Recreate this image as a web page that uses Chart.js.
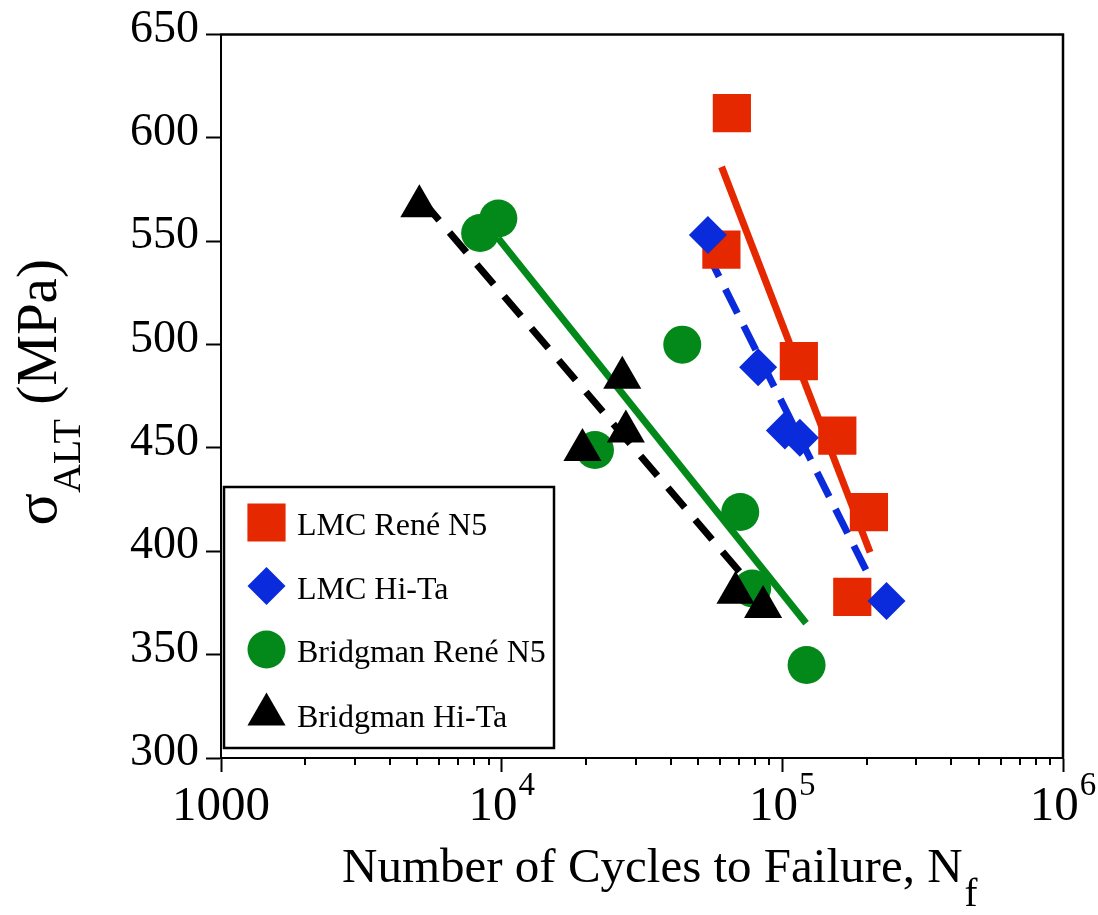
<!DOCTYPE html>
<html>
<head>
<meta charset="utf-8">
<script src="https://cdn.jsdelivr.net/npm/chart.js@4.4.1/dist/chart.umd.min.js"></script>
<style>
  html, body { margin: 0; padding: 0; background: #ffffff; }
  canvas { display: block; }
</style>
</head>
<body>
<canvas id="fatigue" width="1098" height="915"></canvas>
<script>
// Measured fatigue lives (cycles) and alternating stress (MPa)
const lmcReneN5Cycles   = [66100, 60660, 114500, 157000, 203500, 177500];
const lmcReneN5Stress   = [612, 546, 492, 456, 419, 378];
const lmcHiTaCycles     = [54300, 82000, 102100, 115500, 235000];
const lmcHiTaStress     = [553, 489, 458.5, 455, 376];
const bridgReneN5Cycles = [8380, 9730, 21500, 44000, 70800, 78100, 122000];
const bridgReneN5Stress = [554, 561, 449, 500, 419, 382, 345];
const bridgHiTaCycles   = [5090, 19400, 26900, 27700, 68100, 85400];
const bridgHiTaStress   = [567, 449, 484, 458, 380, 373];

// Trend-line end points for each alloy / process
const lmcReneN5FitCycles   = [60760, 205400];
const lmcReneN5FitStress   = [586, 399.5];
const lmcHiTaFitCycles     = [53900, 206600];
const lmcHiTaFitStress     = [544.6, 386.3];
const bridgReneN5FitCycles = [9710, 121500];
const bridgReneN5FitStress = [551.5, 365.2];
const bridgHiTaFitCycles   = [5210, 73500];
const bridgHiTaFitStress   = [569.7, 387.2];

const seriesNames = ['LMC René N5', 'LMC Hi-Ta', 'Bridgman René N5', 'Bridgman Hi-Ta'];

// Axis ticks
const yTickValues  = [300, 350, 400, 450, 500, 550, 600, 650];
const xMajorTicks  = [1000, 10000, 100000, 1000000];
const xMajorBase   = ['1000', '10', '10', '10'];
const xMajorExp    = ['', '4', '5', '6'];
const xMinorTicks  = [2000, 3000, 4000, 5000, 6000, 7000, 8000, 9000,
                      20000, 30000, 40000, 50000, 60000, 70000, 80000, 90000,
                      200000, 300000, 400000, 500000, 600000, 700000, 800000, 900000];

const RED = '#e52800', BLUE = '#0a2bdc', GREEN = '#03891a', BLACK = '#000000';
const SERIF = '"Liberation Serif", "Times New Roman", serif';

const pts = (xs, ys) => xs.map((v, i) => ({ x: v, y: ys[i] }));

function markerSet(label, xs, ys, style, radius, color, order) {
  return {
    type: 'scatter', label, data: pts(xs, ys), order,
    pointStyle: style, pointRadius: radius, pointHoverRadius: radius,
    backgroundColor: color, borderColor: color, pointBorderWidth: 0,
    showLine: false
  };
}
function fitSet(xs, ys, color, dash) {
  return {
    type: 'line', label: '', data: pts(xs, ys), order: 10,
    borderColor: color, borderWidth: 7, borderDash: dash, borderCapStyle: 'butt',
    pointRadius: 0, pointHoverRadius: 0, fill: false, tension: 0
  };
}

const datasets = [
  markerSet(seriesNames[0], lmcReneN5Cycles, lmcReneN5Stress, 'rect', 27, RED, 4),
  markerSet(seriesNames[1], lmcHiTaCycles, lmcHiTaStress, 'rectRot', 19, BLUE, 3),
  markerSet(seriesNames[2], bridgReneN5Cycles, bridgReneN5Stress, 'circle', 19, GREEN, 2),
  markerSet(seriesNames[3], bridgHiTaCycles, bridgHiTaStress, 'triangle', 22, BLACK, 1),
  fitSet(lmcReneN5FitCycles, lmcReneN5FitStress, RED, []),
  fitSet(lmcHiTaFitCycles, lmcHiTaFitStress, BLUE, [27, 14]),
  fitSet(bridgReneN5FitCycles, bridgReneN5FitStress, GREEN, []),
  fitSet(bridgHiTaFitCycles, bridgHiTaFitStress, BLACK, [26, 16])
];

function drawMarker(ctx, style, x, y, r, color) {
  ctx.fillStyle = color;
  ctx.beginPath();
  if (style === 'rect') {
    const h = Math.SQRT1_2 * r;
    ctx.rect(x - h, y - h, 2 * h, 2 * h);
  } else if (style === 'rectRot') {
    ctx.moveTo(x - r, y); ctx.lineTo(x, y - r); ctx.lineTo(x + r, y); ctx.lineTo(x, y + r);
    ctx.closePath();
  } else if (style === 'circle') {
    ctx.arc(x, y, r, 0, Math.PI * 2);
  } else {
    ctx.moveTo(x, y - r);
    ctx.lineTo(x + Math.sin(2 * Math.PI / 3) * r, y + 0.5 * r);
    ctx.lineTo(x - Math.sin(2 * Math.PI / 3) * r, y + 0.5 * r);
    ctx.closePath();
  }
  ctx.fill();
}

// Frame, minor ticks, decade labels, axis titles and the boxed key
const decorations = {
  id: 'decorations',
  afterDraw(chart) {
    const { ctx, chartArea: a, scales: { x } } = chart;
    ctx.save();
    ctx.strokeStyle = '#000';

    // top and right frame edges
    ctx.lineWidth = 2.5;
    ctx.beginPath();
    ctx.moveTo(a.left - 1, a.top);
    ctx.lineTo(a.right, a.top);
    ctx.lineTo(a.right, a.bottom + 1);
    ctx.stroke();

    // minor ticks on the log axis
    ctx.lineWidth = 2;
    ctx.beginPath();
    xMinorTicks.forEach(v => {
      const px = Math.round(x.getPixelForValue(v));
      ctx.moveTo(px, a.bottom);
      ctx.lineTo(px, a.bottom + 7);
    });
    ctx.stroke();

    // decade labels with superscript exponents
    ctx.fillStyle = '#000';
    ctx.textBaseline = 'alphabetic';
    ctx.textAlign = 'left';
    xMajorTicks.forEach((v, i) => {
      const px = x.getPixelForValue(v);
      ctx.font = '49px ' + SERIF;
      const wb = ctx.measureText(xMajorBase[i]).width;
      ctx.font = '33px ' + SERIF;
      const we = xMajorExp[i] ? ctx.measureText(xMajorExp[i]).width + 1 : 0;
      const start = px - (wb + we) / 2;
      ctx.font = '49px ' + SERIF;
      ctx.fillText(xMajorBase[i], start, a.bottom + 62);
      if (xMajorExp[i]) {
        ctx.font = '33px ' + SERIF;
        ctx.fillText(xMajorExp[i], start + wb + 1, a.bottom + 37);
      }
    });

    // x axis title: Number of Cycles to Failure, N_f
    const xMain = 'Number of Cycles to Failure, N', xSub = 'f';
    const xs0 = 342;
    ctx.font = '49px ' + SERIF;
    const wxm = ctx.measureText(xMain).width;
    ctx.fillText(xMain, xs0, 882);
    ctx.font = '39px ' + SERIF;
    ctx.fillText(xSub, xs0 + wxm + 2, 906);

    // y axis title: sigma_ALT (MPa), rotated
    ctx.save();
    ctx.translate(56, (a.top + a.bottom) / 2 - 4);
    ctx.rotate(-Math.PI / 2);
    const parts = [
      { t: '\u03C3', f: '60px ' + SERIF, dy: 0 },
      { t: 'ALT', f: '40px ' + SERIF, dy: 24 },
      { t: ' (MPa)', f: '57px ' + SERIF, dy: 0 }
    ];
    let total = 0;
    parts.forEach(p => { ctx.font = p.f; p.w = ctx.measureText(p.t).width; total += p.w; });
    let cx = -total / 2;
    parts.forEach(p => { ctx.font = p.f; ctx.fillText(p.t, cx, p.dy); cx += p.w; });
    ctx.restore();

    // key box
    const box = { x: 224, y: 487, w: 330, h: 261 };
    ctx.fillStyle = '#fff';
    ctx.fillRect(box.x, box.y, box.w, box.h);
    ctx.lineWidth = 2.5;
    ctx.strokeRect(box.x, box.y, box.w, box.h);
    const rowY = [522.5, 586, 649.5, 714.5];
    const keyRadius = [27, 19, 19, 22];
    for (let i = 0; i < 4; i++) {
      const ds = chart.data.datasets[i];
      drawMarker(ctx, ds.pointStyle, 266.5, rowY[i], keyRadius[i], ds.backgroundColor);
      ctx.fillStyle = '#000';
      ctx.font = '32px ' + SERIF;
      ctx.fillText(ds.label, 297, rowY[i] + 12.5);
    }
    ctx.restore();
  }
};

new Chart(document.getElementById('fatigue'), {
  data: { datasets },
  options: {
    responsive: false,
    animation: false,
    events: [],
    layout: { padding: { top: 33, right: 35, left: 0, bottom: 0 } },
    plugins: { legend: { display: false }, tooltip: { enabled: false }, title: { display: false } },
    scales: {
      x: {
        type: 'logarithmic', min: 1000, max: 1000000,
        afterBuildTicks: s => { s.ticks = xMajorTicks.map(v => ({ value: v })); },
        afterFit: s => { s.height = 915 - 758; },
        grid: { drawOnChartArea: false, drawTicks: true, tickLength: 14, tickWidth: 2, tickColor: '#000' },
        border: { display: true, color: '#000', width: 2 },
        ticks: { display: false }
      },
      y: {
        type: 'linear', min: 300, max: 650,
        afterBuildTicks: s => { s.ticks = yTickValues.map(v => ({ value: v })); },
        afterFit: s => { s.width = 221; },
        grid: { drawOnChartArea: false, drawTicks: true, tickLength: 15, tickWidth: 2, tickColor: '#000' },
        border: { display: true, color: '#000', width: 2 },
        ticks: {
          autoSkip: false, color: '#000', padding: 7, labelOffset: -5,
          font: { family: SERIF, size: 46 }
        }
      }
    }
  },
  plugins: [decorations]
});
</script>
</body>
</html>
